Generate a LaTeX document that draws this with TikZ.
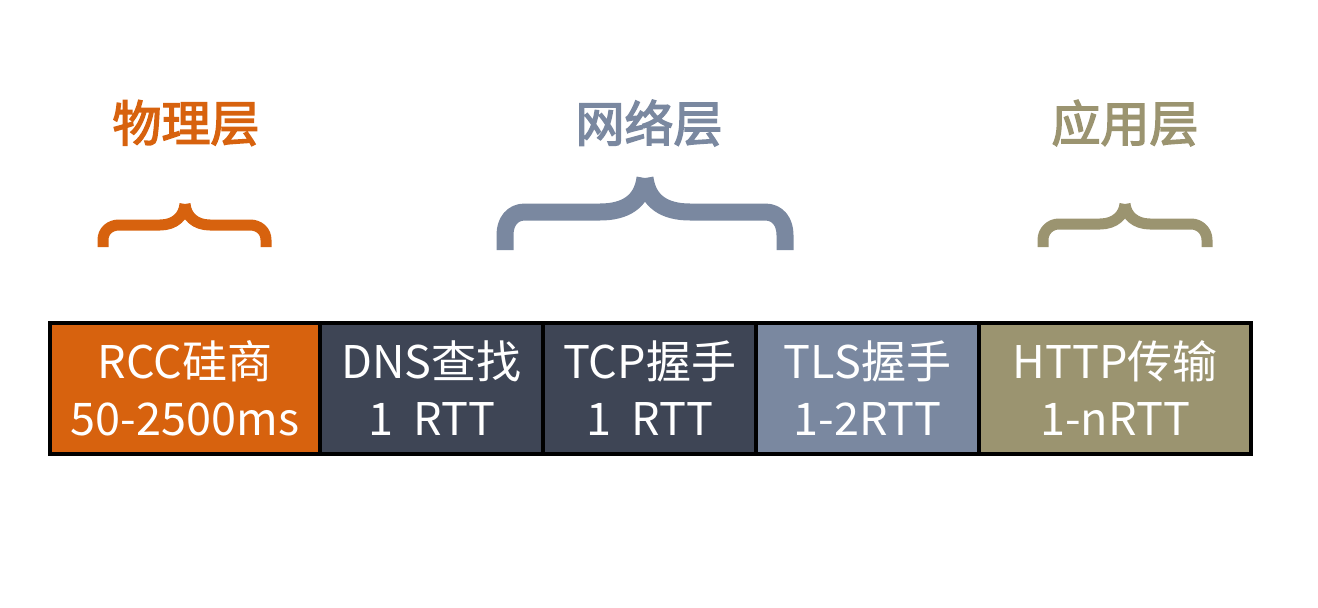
\documentclass[tikz,border=0pt]{standalone}
\usepackage{fontspec}
\setmainfont{Noto Sans CJK SC}
\newfontfamily\labelfont[FakeBold=3]{Noto Sans CJK SC}
\definecolor{cOrange}{HTML}{D7620E}
\definecolor{cDark}{HTML}{3E4555}
\definecolor{cSlate}{HTML}{7A88A0}
\definecolor{cOlive}{HTML}{9B9470}
\begin{document}
\begin{tikzpicture}[x=1pt,y=-1pt,
  seg/.style={draw=black, line width=4pt, minimum height=131pt, text=white,
    align=center, inner sep=0pt, font=\fontsize{45}{57}\selectfont},
  layer/.style={font=\labelfont\fontsize{49}{52}\selectfont, inner sep=0pt},
  bracestroke/.style={line width=#1, line cap=butt, line join=round}]
\useasboundingbox (0,0) rectangle (1318,608);
% layer labels
\node[layer, text=cOrange] (l1) at (186,123) {物理层};
\node[layer, text=cSlate] (l2) at (649,123) {网络层};
\node[layer, text=cOlive] (l3) at (1125,123) {应用层};
% braces
\draw[bracestroke=11pt, cOrange]
  (103,247) -- (103,240) .. controls (103,231) and (110,225) .. (119,225) -- (160,225)
  .. controls (175,225) and (184,216) .. (185,204);
\draw[bracestroke=11pt, cOrange]
  (266,247) -- (266,240) .. controls (266,231) and (259,225) .. (250,225) -- (210,225)
  .. controls (195,225) and (186,216) .. (185,204);
\draw[bracestroke=17pt, cSlate]
  (505,250) -- (505,235) .. controls (505,222) and (512,212) .. (525,212) -- (600,212)
  .. controls (625,212) and (642,202) .. (645,178);
\draw[bracestroke=17pt, cSlate]
  (785,250) -- (785,235) .. controls (785,222) and (778,212) .. (765,212) -- (690,212)
  .. controls (665,212) and (648,202) .. (645,178);
\draw[bracestroke=11pt, cOlive]
  (1043,247) -- (1043,240) .. controls (1043,231) and (1050,224) .. (1059,224) -- (1100,224)
  .. controls (1115,224) and (1124,215) .. (1125,204);
\draw[bracestroke=11pt, cOlive]
  (1207,247) -- (1207,240) .. controls (1207,231) and (1200,224) .. (1191,224) -- (1150,224)
  .. controls (1135,224) and (1126,215) .. (1125,204);
% segments
\node[seg, fill=cOrange, minimum width=270pt] (b1) at (185,388.5) {RCC硅商\\50-2500ms};
\node[seg, fill=cDark, minimum width=223pt] (b2) at (431.5,388.5) {DNS查找\\1\ \ RTT};
\node[seg, fill=cDark, minimum width=213pt] (b3) at (649.5,388.5) {TCP握手\\1\ \ RTT};
\node[seg, fill=cSlate, minimum width=223pt] (b4) at (867.5,388.5) {TLS握手\\1-2RTT};
\node[seg, fill=cOlive, minimum width=272pt] (b5) at (1115,388.5) {HTTP传输\\1-nRTT};
\end{tikzpicture}
\end{document}
